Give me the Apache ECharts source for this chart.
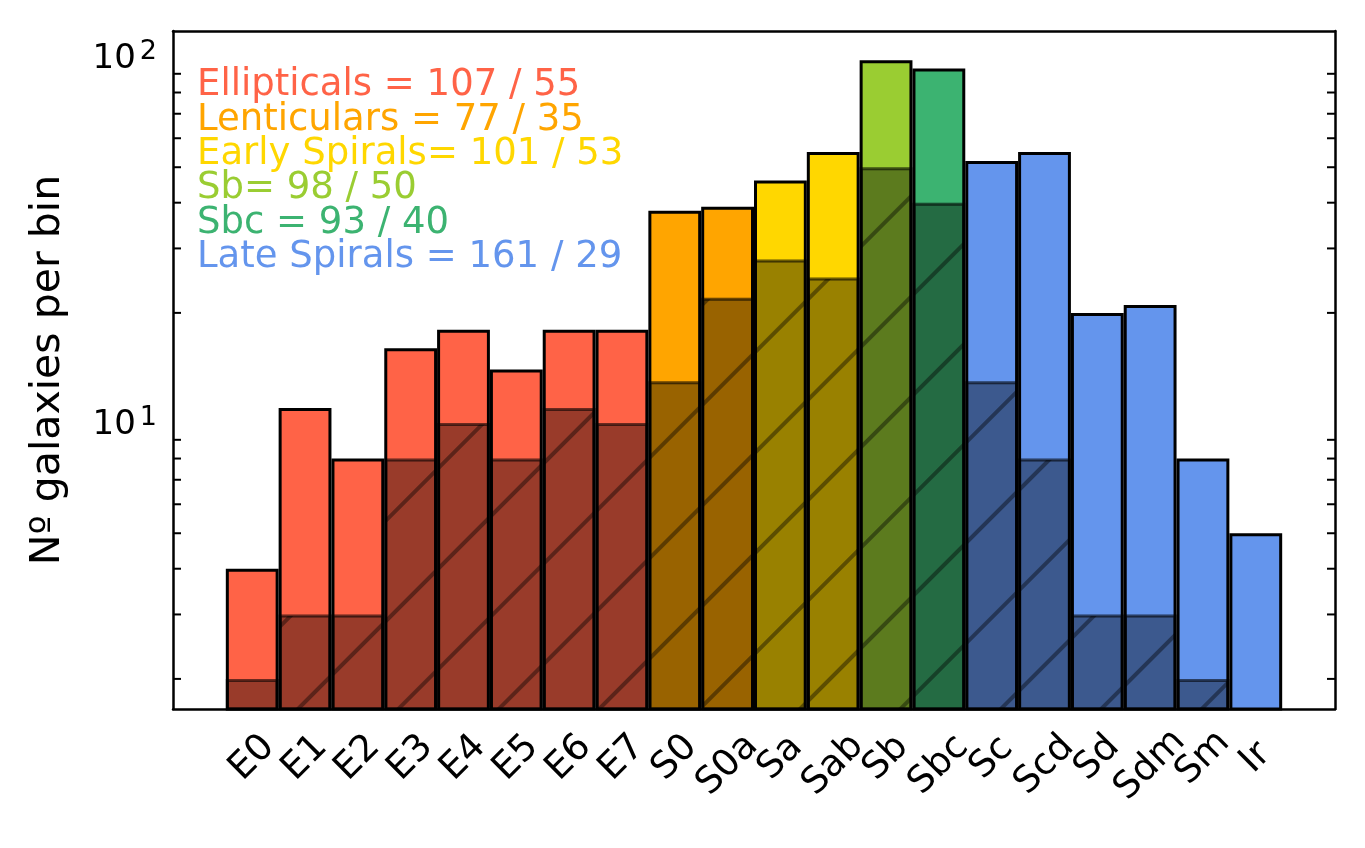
<!DOCTYPE html>
<html>
  <head>
    <meta http-equiv="Content-Type" content="text/html; charset=utf-8">
    <title>Galaxies per morphological bin</title>
    <style>
      html, body { margin: 0; padding: 0; background: #fff; }
      #chart { width: 1365px; height: 848px; }
    </style>
    <script src="https://cdn.jsdelivr.net/npm/echarts@6.0.0/dist/echarts.min.js"></script>
  </head>
  <body>
    <div id="chart"></div>
    <script type="text/javascript">
      // morphological bins and counts (total sample / sub-sample)
      var categories = ['E0', 'E1', 'E2', 'E3', 'E4', 'E5', 'E6', 'E7', 'S0', 'S0a',
                        'Sa', 'Sab', 'Sb', 'Sbc', 'Sc', 'Scd', 'Sd', 'Sdm', 'Sm', 'Ir'];
      var totalCounts = [4, 11, 8, 16, 18, 14, 18, 18, 38, 39, 46, 55, 98, 93, 52, 55, 20, 21, 8, 5];
      var subCounts = [2, 3, 3, 8, 10, 8, 11, 10, 13, 22, 28, 25, 50, 40, 13, 8, 3, 3, 2, 0];
      // which class each bin belongs to
      var binClass = [0, 0, 0, 0, 0, 0, 0, 0, 1, 1, 2, 2, 3, 4, 5, 5, 5, 5, 5, 5];
      var classColors = ['#FF6347', '#FFA500', '#FFD700', '#9ACD32', '#3CB371', '#6495ED'];
      var classLabels = ['Ellipticals = 107 / 55', 'Lenticulars = 77 / 35', 'Early Spirals= 101 / 53',
                         'Sb= 98 / 50', 'Sbc = 93 / 40', 'Late Spirals = 161 / 29'];
      var yMinorTicks = [2, 3, 4, 5, 6, 7, 8, 9, 20, 30, 40, 50, 60, 70, 80, 90];
      var yMin = 1.655, yMax = 117.8;

      var font = 'DejaVu Sans';
      // one empty slot on each side, like the margins of the original
      var xData = [''].concat(categories, ['']);

      var totalData = ['-'];
      var subData = ['-'];
      for (var i = 0; i < categories.length; i++) {
        totalData.push({ value: totalCounts[i], itemStyle: { color: classColors[binClass[i]] } });
        subData.push(subCounts[i] > 0 ? subCounts[i] : '-');
      }
      totalData.push('-');
      subData.push('-');

      function logLabel(v) {
        var e = Math.round(Math.log10(v));
        if (Math.abs(Math.log10(v) - e) > 1e-6) return '';
        return '{b|10}{s|' + e + '}';
      }

      // longer labels sit a bit lower (rotated box anchored by its top)
      function xLabel(v) {
        return v.length > 2 ? '{l|' + v + '}' : '{n|' + v + '}';
      }

      var legendTexts = classLabels.map(function (t, k) {
        return {
          type: 'text', left: 197, top: 67 + k * 34.4, z: 20,
          style: { text: t, fill: classColors[k], font: '37px "' + font + '"' }
        };
      });

      var tickStyle = { color: '#000', width: 2 };

      var myChart = echarts.init(document.getElementById('chart'), null, { renderer: 'canvas' });
      myChart.setOption({
        animation: false,
        textStyle: { fontFamily: font },
        grid: { left: 173, right: 30, top: 31, bottom: 139, containLabel: false },
        xAxis: [{
          type: 'category', position: 'bottom', data: xData, z: 10,
          axisLine: { lineStyle: { color: '#000', width: 2.5 } },
          axisTick: {
            inside: true, length: 9, alignWithLabel: true, lineStyle: tickStyle,
            interval: function (idx, val) { return val !== ''; }
          },
          axisLabel: {
            interval: 0, rotate: 45, color: '#000', fontFamily: font,
            align: 'center', verticalAlign: 'middle', margin: 49,
            formatter: xLabel,
            rich: {
              n: { fontSize: 37, fontFamily: font, color: '#000' },
              l: { fontSize: 37, fontFamily: font, color: '#000', padding: [10, 10, 0, 0] }
            }
          }
        }, {
          type: 'category', position: 'top', data: xData, z: 10,
          axisLine: { lineStyle: { color: '#000', width: 2.5 } },
          axisTick: {
            inside: true, length: 9, alignWithLabel: true, lineStyle: tickStyle,
            interval: function (idx, val) { return val !== ''; }
          },
          axisLabel: { show: false }
        }],
        yAxis: [{
          type: 'log', logBase: 10, min: yMin, max: yMax, position: 'left', z: 10,
          name: 'Nº galaxies per bin', nameLocation: 'middle', nameGap: 104, nameRotate: 90,
          nameTextStyle: { color: '#000', fontSize: 41, fontFamily: font },
          axisLine: { show: true, lineStyle: { color: '#000', width: 2.5 } },
          axisTick: { inside: true, length: 15, lineStyle: tickStyle },
          splitLine: { show: false },
          axisLabel: {
            color: '#000', margin: 16, formatter: logLabel,
            rich: {
              b: { fontSize: 34, fontFamily: font, color: '#000', verticalAlign: 'bottom', lineHeight: 38 },
              s: { fontSize: 27, fontFamily: font, color: '#000', verticalAlign: 'top', lineHeight: 38, padding: [0, 0, 0, 4] }
            }
          }
        }, {
          type: 'log', logBase: 10, min: yMin, max: yMax, position: 'right', z: 10,
          axisLine: { show: true, lineStyle: { color: '#000', width: 2.5 } },
          axisTick: { inside: true, length: 15, lineStyle: tickStyle },
          splitLine: { show: false },
          axisLabel: { show: false }
        }],
        graphic: legendTexts,
        series: [{
          name: 'All', type: 'bar', data: totalData,
          barCategoryGap: '0%', barGap: '-100%',
          itemStyle: { borderColor: '#000', borderWidth: 3 }
        }, {
          name: 'Subsample', type: 'bar', data: subData,
          barCategoryGap: '0%', barGap: '-100%',
          itemStyle: {
            color: 'rgba(0,0,0,0.4)', borderColor: 'rgba(0,0,0,0.35)', borderWidth: 3,
            decal: {
              symbol: 'rect', symbolSize: 1, color: 'rgba(0,0,0,0.4)',
              dashArrayX: [1, 0], dashArrayY: [3.5, 67], rotation: -Math.PI / 4
            }
          }
        }, {
          // minor ticks of the log axis, drawn on both sides
          name: 'minorTicks', type: 'custom', z: 11, silent: true, clip: false,
          data: yMinorTicks.map(function (v) { return [0, v]; }),
          encode: { x: 0, y: 1 },
          renderItem: function (params, api) {
            var cs = params.coordSys;
            var y = api.coord([0, api.value(1)])[1];
            var st = { stroke: '#000', lineWidth: 2 };
            return {
              type: 'group',
              children: [
                { type: 'line', shape: { x1: cs.x, y1: y, x2: cs.x + 8, y2: y }, style: st },
                { type: 'line', shape: { x1: cs.x + cs.width - 8, y1: y, x2: cs.x + cs.width, y2: y }, style: st }
              ]
            };
          }
        }]
      });
    </script>
  </body>
</html>
